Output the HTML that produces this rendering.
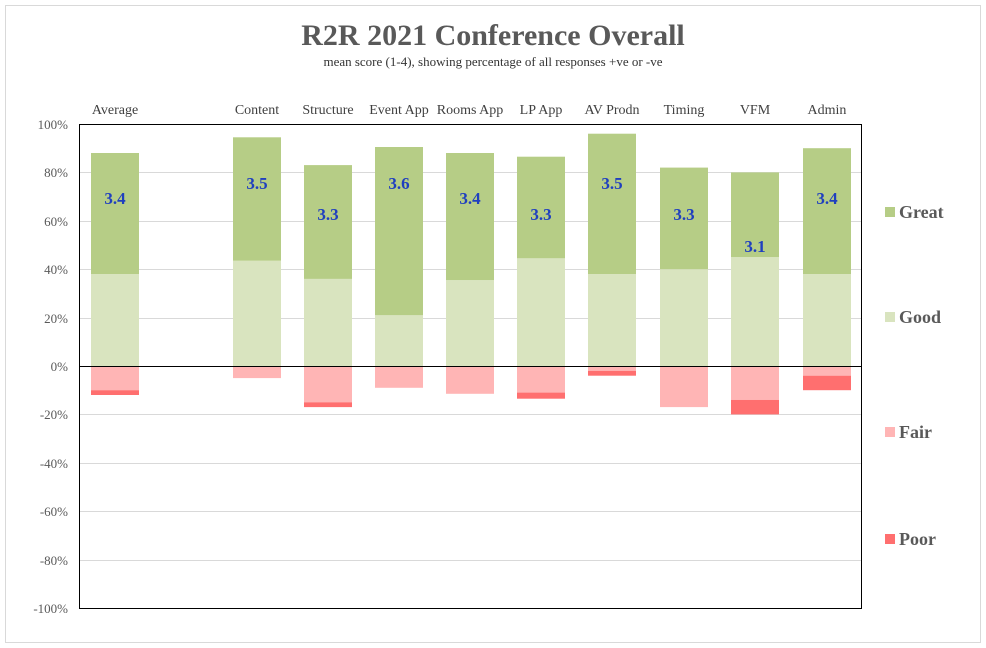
<!DOCTYPE html>
<html><head><style>body{margin:0;background:#fff}svg{display:block}</style></head><body>
<svg width="986" height="648" xmlns="http://www.w3.org/2000/svg" font-family="Liberation Serif, serif">
<rect x="5.5" y="5.5" width="975" height="637" fill="#fff" stroke="#d9d9d9"/>
<text x="493" y="45" text-anchor="middle" font-size="30" font-weight="bold" fill="#595959">R2R 2021 Conference Overall</text>
<text x="493" y="66" text-anchor="middle" font-size="13" fill="#333">mean score (1-4), showing percentage of all responses +ve or -ve</text>
<g stroke="#d9d9d9" stroke-width="1">
<line x1="79" x2="862" y1="172.5" y2="172.5"/><line x1="79" x2="862" y1="221.5" y2="221.5"/><line x1="79" x2="862" y1="269.5" y2="269.5"/><line x1="79" x2="862" y1="318.5" y2="318.5"/><line x1="79" x2="862" y1="414.5" y2="414.5"/><line x1="79" x2="862" y1="463.5" y2="463.5"/><line x1="79" x2="862" y1="511.5" y2="511.5"/><line x1="79" x2="862" y1="560.5" y2="560.5"/>
</g>
<g font-size="13" fill="#595959" text-anchor="end">
<text x="68" y="129">100%</text><text x="68" y="177">80%</text><text x="68" y="226">60%</text><text x="68" y="274">40%</text><text x="68" y="323">20%</text><text x="68" y="371">0%</text><text x="68" y="419">-20%</text><text x="68" y="468">-40%</text><text x="68" y="516">-60%</text><text x="68" y="565">-80%</text><text x="68" y="613">-100%</text>
</g>
<g>
<rect x="91" y="274" width="48" height="92" fill="#d9e4bf"/><rect x="91" y="153" width="48" height="121" fill="#b6cd86"/><rect x="91" y="366" width="48" height="24.2" fill="#ffb5b5"/><rect x="91" y="390.2" width="48" height="4.8" fill="#ff6f6f"/>
<rect x="233" y="260.7" width="48" height="105.3" fill="#d9e4bf"/><rect x="233" y="137.3" width="48" height="123.4" fill="#b6cd86"/><rect x="233" y="366" width="48" height="12.1" fill="#ffb5b5"/>
<rect x="304" y="278.9" width="48" height="87.1" fill="#d9e4bf"/><rect x="304" y="165.1" width="48" height="113.8" fill="#b6cd86"/><rect x="304" y="366" width="48" height="36.3" fill="#ffb5b5"/><rect x="304" y="402.3" width="48" height="4.8" fill="#ff6f6f"/>
<rect x="375" y="315.2" width="48" height="50.8" fill="#d9e4bf"/><rect x="375" y="147" width="48" height="168.2" fill="#b6cd86"/><rect x="375" y="366" width="48" height="21.8" fill="#ffb5b5"/>
<rect x="446" y="280.1" width="48" height="85.9" fill="#d9e4bf"/><rect x="446" y="153" width="48" height="127.1" fill="#b6cd86"/><rect x="446" y="366" width="48" height="27.8" fill="#ffb5b5"/>
<rect x="517" y="258.3" width="48" height="107.7" fill="#d9e4bf"/><rect x="517" y="156.7" width="48" height="101.6" fill="#b6cd86"/><rect x="517" y="366" width="48" height="26.6" fill="#ffb5b5"/><rect x="517" y="392.6" width="48" height="6.1" fill="#ff6f6f"/>
<rect x="588" y="274" width="48" height="92" fill="#d9e4bf"/><rect x="588" y="133.7" width="48" height="140.3" fill="#b6cd86"/><rect x="588" y="366" width="48" height="4.8" fill="#ffb5b5"/><rect x="588" y="370.8" width="48" height="4.9" fill="#ff6f6f"/>
<rect x="660" y="269.2" width="48" height="96.8" fill="#d9e4bf"/><rect x="660" y="167.6" width="48" height="101.6" fill="#b6cd86"/><rect x="660" y="366" width="48" height="41.1" fill="#ffb5b5"/>
<rect x="731" y="257.1" width="48" height="108.9" fill="#d9e4bf"/><rect x="731" y="172.4" width="48" height="84.7" fill="#b6cd86"/><rect x="731" y="366" width="48" height="33.9" fill="#ffb5b5"/><rect x="731" y="399.9" width="48" height="14.5" fill="#ff6f6f"/>
<rect x="803" y="274" width="48" height="92" fill="#d9e4bf"/><rect x="803" y="148.2" width="48" height="125.8" fill="#b6cd86"/><rect x="803" y="366" width="48" height="9.7" fill="#ffb5b5"/><rect x="803" y="375.7" width="48" height="14.5" fill="#ff6f6f"/>
</g>
<g font-size="17" font-weight="bold" fill="#1f3fbf" text-anchor="middle">
<text x="115" y="204">3.4</text><text x="257" y="189">3.5</text><text x="328" y="220">3.3</text><text x="399" y="189">3.6</text><text x="470" y="204">3.4</text><text x="541" y="220">3.3</text><text x="612" y="189">3.5</text><text x="684" y="220">3.3</text><text x="755" y="252">3.1</text><text x="827" y="204">3.4</text>
</g>
<g font-size="14" fill="#404040" text-anchor="middle">
<text x="115" y="114">Average</text><text x="257" y="114">Content</text><text x="328" y="114">Structure</text><text x="399" y="114">Event App</text><text x="470" y="114">Rooms App</text><text x="541" y="114">LP App</text><text x="612" y="114">AV Prodn</text><text x="684" y="114">Timing</text><text x="755" y="114">VFM</text><text x="827" y="114">Admin</text>
</g>
<rect x="79.5" y="124.5" width="782" height="484" fill="none" stroke="#000"/>
<line x1="79" x2="862" y1="366.5" y2="366.5" stroke="#000"/>
<g font-size="18" font-weight="bold" fill="#595959">
<text x="899" y="218">Great</text><text x="899" y="323">Good</text><text x="899" y="438">Fair</text><text x="899" y="545">Poor</text>
</g>
<rect x="885" y="207" width="10" height="10" fill="#b6cd86"/>
<rect x="885" y="312" width="10" height="10" fill="#d9e4bf"/>
<rect x="885" y="427" width="10" height="10" fill="#ffb5b5"/>
<rect x="885" y="534" width="10" height="10" fill="#ff6f6f"/>
</svg>
</body></html>
